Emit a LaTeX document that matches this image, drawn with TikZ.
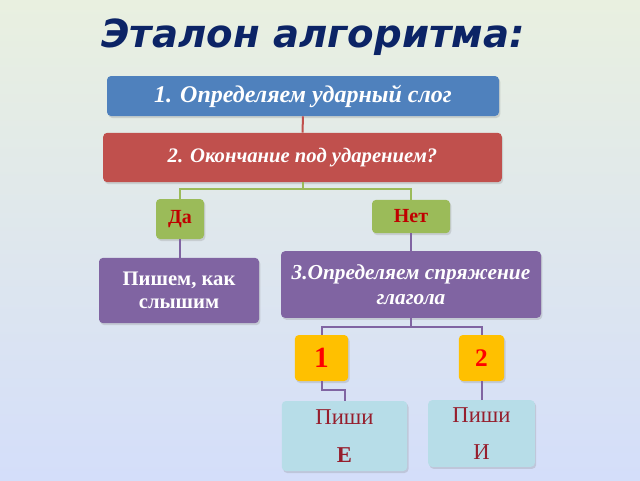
\documentclass[tikz,border=0pt]{standalone}
\usepackage{fontspec}
\setmainfont{Liberation Serif}
\newfontfamily\titlefont{DejaVu Sans}
\usepackage{tikz}
\usepackage{xcolor}
\usetikzlibrary{shadows}

\definecolor{bgtop}{RGB}{233,240,224}
\definecolor{bgbot}{RGB}{212,222,250}
\definecolor{titleblue}{RGB}{12,36,102}
\definecolor{stepblue}{RGB}{79,129,189}
\definecolor{stepred}{RGB}{192,80,77}
\definecolor{stepgreen}{RGB}{155,187,89}
\definecolor{steppurple}{RGB}{128,100,162}
\definecolor{stepyellow}{RGB}{255,192,0}
\definecolor{stepcyan}{RGB}{183,221,232}
\definecolor{darkred}{RGB}{192,0,0}
\definecolor{wine}{RGB}{150,30,45}

\tikzset{
  box/.style={rounded corners=3pt, inner sep=0pt, align=center,
    drop shadow={shadow xshift=1pt, shadow yshift=-1.5pt, opacity=0.25}},
  link/.style={line width=1.5pt}
}

\begin{document}
\begin{tikzpicture}[x=0.75pt,y=-0.75pt]
\useasboundingbox (0,0) rectangle (640,480);
\shade [top color=bgtop, bottom color=bgbot] (0,0) rectangle (640,480);
\node [text=titleblue, font=\titlefont\bfseries\itshape\fontsize{29}{34}\selectfont] (0) at (313,37) {Эталон алгоритма:};
% steps
\node [box, fill=stepblue, text=white, minimum width=294pt, minimum height=30pt, font=\bfseries\itshape\fontsize{18}{21}\selectfont] (1) at (303,96) {1. Определяем ударный слог};
\node [box, fill=stepred, text=white, minimum width=299pt, minimum height=37pt, font=\bfseries\itshape\fontsize{15.5}{18}\selectfont] (2) at (302.5,157.5) {2. Окончание под ударением?};
\node [box, fill=stepgreen, text=darkred, minimum width=36pt, minimum height=30pt, font=\bfseries\fontsize{15}{18}\selectfont] (3) at (180,219) {Да};
\node [box, fill=stepgreen, text=darkred, minimum width=58.5pt, minimum height=25pt, font=\bfseries\fontsize{15}{18}\selectfont] (4) at (411,216.5) {Нет};
\node [box, fill=steppurple, text=white, minimum width=120pt, minimum height=49pt, font=\bfseries\fontsize{15.5}{17}\selectfont] (5) at (179,290.5) {Пишем, как\\ слышим};
\node [box, fill=steppurple, text=white, minimum width=195pt, minimum height=50pt, font=\bfseries\itshape\fontsize{16}{19}\selectfont] (6) at (411,284.5) {3.Определяем спряжение\\ глагола};
\node [box, fill=stepyellow, text=red, minimum width=40pt, minimum height=34.5pt, font=\bfseries\fontsize{22}{26}\selectfont] (7) at (321.5,358) {1};
\node [box, fill=stepyellow, text=red, minimum width=34pt, minimum height=34.5pt, font=\bfseries\fontsize{19}{22}\selectfont] (8) at (481.5,358) {2};
\node [box, fill=stepcyan, text=wine, minimum width=94pt, minimum height=52.5pt, font=\fontsize{17}{20}\selectfont] (9) at (344.5,436) {Пиши\\[9pt] \textbf{Е}};
\node [box, fill=stepcyan, text=wine, minimum width=80pt, minimum height=50pt, font=\fontsize{17}{20}\selectfont] (10) at (481.5,433.5) {Пиши\\[8pt] И};
% links
\draw [link, stepred] (1.south) -- (2.north);
\draw [link, stepgreen] (2.south) -- ++(0,7) -| (3.north);
\draw [link, stepgreen] (2.south) -- ++(0,7) -| (4.north);
\draw [link, steppurple] (3.south) -- (5.north -| 3.south);
\draw [link, steppurple] (4.south) -- (6.north -| 4.south);
\draw [link, steppurple] (6.south) -- ++(0,9) -| (7.north);
\draw [link, steppurple] (6.south) -- ++(0,9) -| (8.north);
\draw [link, steppurple] (7.south) -- ++(0,9) -| (9.north);
\draw [link, steppurple] (8.south) -- (10.north);
\end{tikzpicture}
\end{document}
